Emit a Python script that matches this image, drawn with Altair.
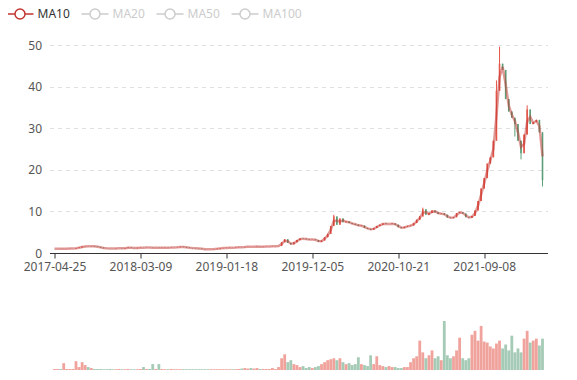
import altair as alt
import pandas as pd

# ---- data (one point ~ 6 trading days) ----
closes = [
    1.00, 1.02, 1.00, 1.03, 1.05, 1.08, 1.10, 1.20, 1.35, 1.55,
    1.62, 1.60, 1.65, 1.55, 1.45, 1.30, 1.15, 1.12, 1.10, 1.08,
    1.12, 1.15, 1.10, 1.18, 1.30, 1.22, 1.15, 1.25, 1.30, 1.28,
    1.32, 1.30, 1.25, 1.28, 1.22, 1.25, 1.30, 1.28, 1.32, 1.35,
    1.40, 1.50, 1.42, 1.30, 1.20, 1.15, 1.10, 1.05, 0.95, 0.90,
    0.88, 0.92, 0.95, 1.05, 1.15, 1.20, 1.25, 1.30, 1.28, 1.35,
    1.40, 1.38, 1.45, 1.50, 1.48, 1.52, 1.55, 1.50, 1.55, 1.58,
    1.60, 1.62, 1.65, 1.70, 2.60, 3.30, 2.40, 2.10, 2.60, 3.10,
    3.50, 3.40, 3.30, 3.20, 3.25, 3.10, 2.70, 3.00, 3.80, 4.60,
    6.50, 8.80, 6.80, 8.30, 7.40, 7.60, 7.20, 7.00, 6.80, 6.50,
    6.60, 6.00, 5.80, 5.60, 6.00, 6.50, 6.80, 7.10, 7.00, 7.00,
    7.10, 6.80, 6.20, 6.00, 6.30, 6.50, 6.60, 7.20, 8.00, 8.80,
    10.50, 9.20, 9.60, 10.20, 9.80, 9.40, 9.50, 9.20, 8.50, 8.40,
    8.60, 9.60, 9.80, 9.50, 8.60, 8.50, 8.90, 10.20, 12.50, 15.50,
    18.00, 21.50, 23.00, 27.00, 39.00, 45.50, 44.00, 37.00, 34.00, 32.50,
    31.00, 27.00, 24.00, 28.50, 34.50, 31.00, 31.50, 32.00, 29.00, 17.50,
]
volumes = [
    1, 1, 1, 7, 1, 1, 1, 9, 3, 8,
    5, 3, 2, 1, 1, 1, 0.8, 0.8, 1, 0.8,
    0.8, 1, 0.8, 0.8, 1, 0.8, 0.8, 0.8, 1, 3,
    1, 1, 6, 1, 6, 1, 0.8, 0.8, 1, 0.8,
    0.8, 0.8, 0.8, 0.8, 0.8, 0.8, 0.8, 0.8, 0.8, 0.8,
    0.8, 0.8, 0.8, 0.8, 0.8, 0.8, 0.8, 0.8, 0.8, 0.8,
    1, 1.5, 2, 1.5, 2, 1.5, 2, 1, 1, 1,
    1, 2, 1, 3, 12, 16, 8, 10, 6, 5,
    3, 4, 2, 3, 2, 3, 4, 6, 8, 10,
    11, 12, 10, 12, 8, 6, 7, 5, 6, 13,
    6, 5, 4, 15, 6, 14, 5, 4, 3, 4,
    3, 3, 2, 2, 3, 3, 8, 12, 14, 30,
    18, 12, 15, 20, 12, 14, 10, 50, 15, 12,
    14, 20, 33, 12, 10, 12, 36, 40, 30, 45,
    29, 28, 24, 22, 27, 30, 22, 26, 20, 35,
    18, 22, 18, 32, 40, 28, 30, 32, 25, 32,
]
wick_highs = {91: 9.2, 120: 10.9, 144: 41.5, 145: 49.6, 154: 35.5}
wick_lows = {150: 28.0, 152: 22.5, 159: 16.0}

tick_index = [0, 28, 56, 84, 112, 140]
tick_labels = ["2017-04-25", "2018-03-09", "2019-01-18",
               "2019-12-05", "2020-10-21", "2021-09-08"]
price_ticks = [0, 10, 20, 30, 40, 50]
legend_names = ["MA10", "MA20", "MA50", "MA100"]

UP = "#e4574a"
DOWN = "#5b9f78"

n = len(closes)
opens = [closes[0]] + closes[:-1]
rows = []
for i in range(n):
    o, c = opens[i], closes[i]
    rows.append(dict(
        idx=i, open=o, close=c,
        high=wick_highs.get(i, max(o, c)),
        low=wick_lows.get(i, min(o, c)),
        volume=volumes[i],
        dir="up" if c >= o else "down",
        ma="MA10",
    ))
df = pd.DataFrame(rows)

label_arr = "[" + ",".join("'%s'" % s for s in tick_labels) + "]"
label_expr = "%s[round(datum.value / %d)]" % (label_arr, tick_index[1])

xscale = alt.Scale(domain=[0, n - 1], nice=False, zero=False)
yscale = alt.Scale(domain=[0, 50], nice=False)
dir_color = alt.Color("dir:N", scale=alt.Scale(domain=["up", "down"], range=[UP, DOWN]), legend=None)

x_price = alt.X("idx:Q", scale=xscale, axis=alt.Axis(
    values=tick_index, labelExpr=label_expr, title=None, grid=False,
    domainColor="#333333", tickColor="#333333", tickSize=5, labelColor="#555555",
    labelFontSize=12, labelPadding=3, labelFlush=False, labelOverlap=False))

y_axis = alt.Axis(
    values=price_ticks, title=None, grid=True, gridDash=[4, 4], gridColor="#e0e0e0",
    domain=False, ticks=False, labelColor="#555555", labelFontSize=12, labelPadding=8)

base = alt.Chart(df)

bodies = base.mark_bar(size=1.6).encode(
    x=x_price, y=alt.Y("open:Q", scale=yscale, axis=y_axis), y2="close:Q", color=dir_color)

wicks = base.mark_rule(strokeWidth=1).encode(
    x=x_price, y=alt.Y("low:Q", scale=yscale, axis=y_axis),
    y2="high:Q", color=dir_color)

ma_line = base.transform_window(
    ma10="mean(close)", frame=[-1, 0], sort=[alt.SortField("idx")]
).mark_line(strokeWidth=2.5, opacity=0.5).encode(
    x=x_price,
    y=alt.Y("ma10:Q", scale=yscale, axis=y_axis),
    stroke=alt.Stroke("ma:N", scale=alt.Scale(domain=legend_names,
                      range=["#c23531", "#cccccc", "#cccccc", "#cccccc"]),
                      legend=alt.Legend(
                          orient="none", legendX=-35.5, legendY=-37, direction="horizontal",
                          title=None, padding=0, gridAlign="none",
                          symbolType="M-2.7,0L-1,0M1,0L2.7,0M1,0A1,1,0,1,1,-1,0A1,1,0,1,1,1,0",
                          symbolSize=100, symbolStrokeWidth=1.5, symbolFillColor="#ffffff",
                          symbolOpacity=1, labelFontSize=12, labelOffset=11.5,
                          columnPadding=8,
                          labelColor=alt.ExprRef(expr="datum.label == 'MA10' ? '#333333' : '#cccccc'"))),
)

price = alt.layer(bodies, wicks, ma_line).properties(width=498, height=208)

volume = base.mark_bar(size=2.8, opacity=0.55).encode(
    x=alt.X("idx:Q", scale=xscale, axis=alt.Axis(labels=False, ticks=False, grid=False,
            title=None, domainColor="#333333")),
    y=alt.Y("volume:Q", scale=alt.Scale(domain=[0, 73.5], nice=False), axis=None),
    color=dir_color,
).properties(width=498, height=72)

chart = alt.vconcat(price, volume, spacing=26).properties(
    padding={"left": 5.5, "top": 0, "right": 0, "bottom": 0}
).configure(font="Noto Sans").configure_view(stroke=None)

chart.save("out.html", embed_options={"renderer": "svg", "actions": False})
